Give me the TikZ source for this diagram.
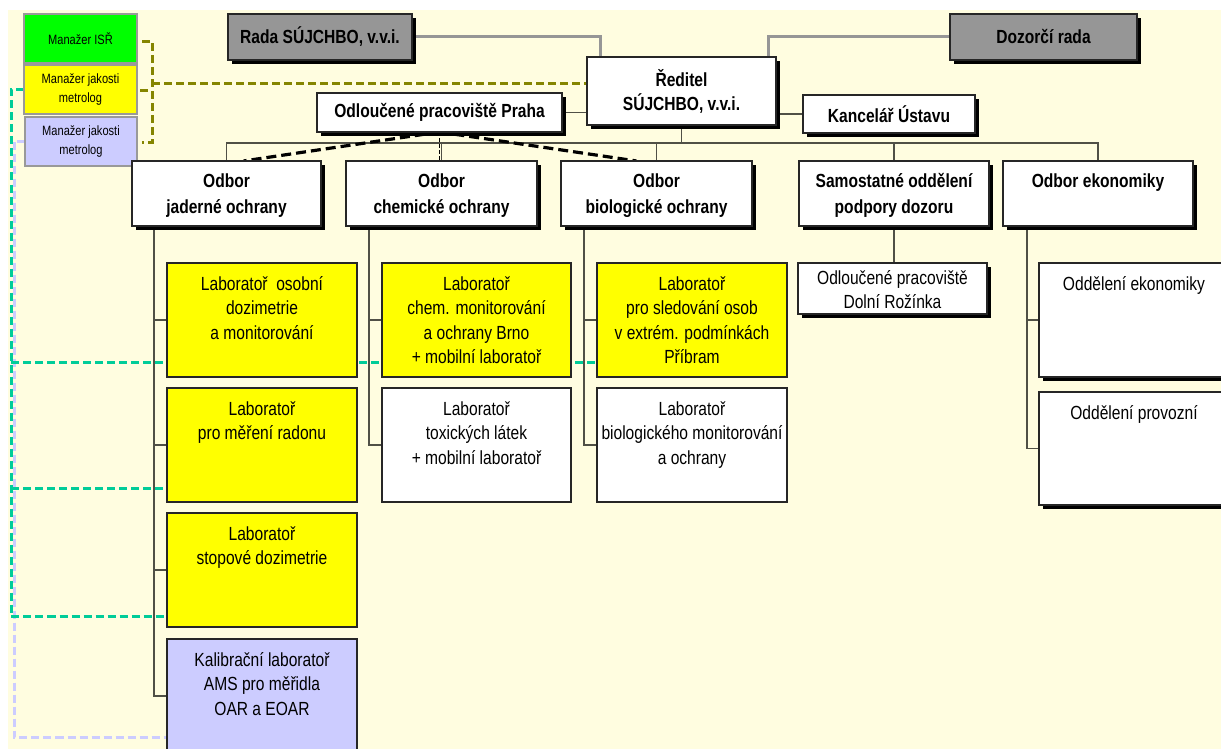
\documentclass[tikz,border=0pt]{standalone}
\usepackage{fontspec}
\setmainfont{Liberation Sans}[FakeStretch=0.82]
\usetikzlibrary{shadows,backgrounds,calc}
\definecolor{cream}{RGB}{255,253,224}
\definecolor{olv}{RGB}{133,133,0}
\definecolor{tealc}{RGB}{0,204,153}
\definecolor{lav}{RGB}{204,204,255}
\definecolor{gfill}{RGB}{150,150,150}
\definecolor{ylw}{RGB}{255,255,0}
\definecolor{grn}{RGB}{0,255,0}
\definecolor{connc}{RGB}{80,80,70}
\definecolor{gline}{RGB}{150,150,150}
\begin{document}
\begin{tikzpicture}[x=1pt,y=-1pt,
  every node/.style={inner sep=0pt, outer sep=0pt},
  bx/.style={draw=black!85, line width=1.3pt, rectangle, anchor=north west},
  shd/.style={drop shadow={shadow xshift=4pt,shadow yshift=-4pt,fill=black,opacity=1}},
  mgr/.style={bx, draw=black!40, line width=1.8pt, minimum width=113pt, minimum height=49pt, font=\fontsize{13.5}{18.5}\selectfont, align=center},
  topbox/.style={bx, shd, fill=white, font=\bfseries\fontsize{19}{24}\selectfont, align=center},
  odb/.style={bx, shd, fill=white, minimum height=65pt},
  lab/.style={bx, minimum height=114pt},
  rt/.style={font=\fontsize{19}{24.5}\selectfont, align=center, anchor=north},
  bt/.style={font=\bfseries\fontsize{19}{26}\selectfont, align=center, anchor=north},
  conn/.style={draw=connc, line width=1.2pt},
  graycon/.style={draw=gline, line width=3pt},
  olvdash/.style={draw=olv, line width=3pt, dash pattern=on 8pt off 4pt},
  tldash/.style={draw=tealc, line width=3pt, dash pattern=on 8pt off 4pt},
  lvdash/.style={draw=lav, line width=3pt, dash pattern=on 8pt off 4pt},
  bkdash/.style={draw=black, line width=3.2pt, dash pattern=on 10pt off 5pt}
]
\useasboundingbox (0,0) rectangle (1221,749);

% managers
\node[mgr, fill=grn] (M1) at (24,14) {Manažer ISŘ};
\node[mgr, fill=ylw] (M2) at (24,65) {Manažer jakosti\\metrolog};
\node[mgr, fill=lav, minimum width=112pt] (M3) at (25,117) {Manažer jakosti\\metrolog};

% top level
\node[topbox, fill=gfill, minimum width=184pt, minimum height=46pt] (R) at (228,14) {Rada SÚJCHBO, v.v.i.};
\node[topbox, fill=gfill, minimum width=187pt, minimum height=46pt] (D) at (950,14) {Dozorčí rada};
\node[topbox, minimum width=189pt, minimum height=68pt] (Dir) at (587,57) {Ředitel\\SÚJCHBO, v.v.i.};
\node[topbox, minimum width=245pt, minimum height=39pt] (P) at (317,93) {Odloučené pracoviště Praha};
\node[topbox, minimum width=172pt, minimum height=38pt] (K) at (803,95) {Kancelář Ústavu};

% odbory
\node[odb, minimum width=189pt] (J) at (132,161) {};
\node[odb, minimum width=191pt] (C) at (346,161) {};
\node[odb, minimum width=191pt] (B) at (561,161) {};
\node[odb, minimum width=190pt] (S) at (799,161) {};
\node[odb, minimum width=190pt] (E) at (1003,161) {};
\node[bt] (Jt) at ([yshift=-12.5pt]J.north) {Odbor\\jaderné ochrany};
\node[bt] (Ct) at ([yshift=-12.5pt]C.north) {Odbor\\chemické ochrany};
\node[bt] (Bt) at ([yshift=-12.5pt]B.north) {Odbor\\biologické ochrany};
\node[bt] (St) at ([yshift=-12.5pt]S.north) {Samostatné oddělení\\podpory dozoru};
\node[bt] (Et) at ([yshift=-12.5pt]E.north) {Odbor ekonomiky};

% labs
\node[lab, fill=ylw, minimum width=190pt] (L1) at (167,263) {};
\node[lab, fill=ylw, minimum width=190pt] (L2) at (167,388) {};
\node[lab, fill=ylw, minimum width=190pt] (L3) at (167,513) {};
\node[lab, fill=lav, minimum width=190pt] (L4) at (167,639) {};
\node[lab, fill=ylw, minimum width=189pt] (C1) at (382,263) {};
\node[lab, fill=white, minimum width=189pt] (C2) at (382,388) {};
\node[lab, fill=ylw, minimum width=190pt] (B1) at (597,263) {};
\node[lab, fill=white, minimum width=190pt] (B2) at (597,388) {};
\node[bx, shd, fill=white, minimum width=189pt, minimum height=51pt] (DR) at (798,263) {};
\node[bx, shd, fill=white, minimum width=190pt, minimum height=114pt] (OE) at (1039,263) {};
\node[bx, shd, fill=white, minimum width=190pt, minimum height=113pt] (OP) at (1039,392) {};

\node[rt] (L1t) at ([yshift=-13.5pt]L1.north) {Laboratoř~ osobní\\dozimetrie\\a monitorování};
\node[rt] (L2t) at ([yshift=-13.5pt]L2.north) {Laboratoř\\pro měření radonu};
\node[rt] (L3t) at ([yshift=-13.5pt]L3.north) {Laboratoř\\stopové dozimetrie};
\node[rt] (L4t) at ([yshift=-13.5pt]L4.north) {Kalibrační laboratoř\\AMS pro měřidla\\OAR a EOAR};
\node[rt] (C1t) at ([yshift=-13.5pt]C1.north) {Laboratoř\\chem. monitorování\\a ochrany Brno\\+ mobilní laboratoř};
\node[rt] (C2t) at ([yshift=-13.5pt]C2.north) {Laboratoř\\toxických látek\\+ mobilní laboratoř};
\node[rt] (B1t) at ([yshift=-13.5pt]B1.north) {Laboratoř\\pro sledování osob\\v extrém. podmínkách\\Příbram};
\node[rt] (B2t) at ([yshift=-13.5pt]B2.north) {Laboratoř\\biologického monitorování\\a ochrany};
\node[rt] (DRt) at ([yshift=-7.5pt]DR.north) {Odloučené pracoviště\\Dolní Rožínka};
\node[rt] (OEt) at ([yshift=-13.5pt]OE.north) {Oddělení ekonomiky};
\node[rt] (OPt) at ([yshift=-13.5pt]OP.north) {Oddělení provozní};

\coordinate (bus) at (0,143);
\coordinate (jx) at (154,0);
\coordinate (cx) at (369,0);
\coordinate (bxx) at (584,0);
\coordinate (ex) at (1027,0);
\coordinate (ob) at (152,0);
\coordinate (oy) at (0,84);
\coordinate (tx) at (11,0);
\coordinate (lx) at (14,0);
\coordinate (t1) at (0,362);
\coordinate (t2) at (0,488);
\coordinate (t3) at (0,616);
\coordinate (l1) at (0,737);

\begin{scope}[on background layer]
\fill[white] (0,0) rectangle (1221,749);
\fill[cream] (8,10) rectangle (1221,749);

% dashed manager links
\draw[lvdash] (M3.west) -- (M3.west -| lx) -- (l1 -| lx) -- (l1 -| L4.west);
\draw[tldash] (M2.west) -- (M2.west -| tx) -- (t3 -| tx) -- (t3 -| L3.west);
\draw[tldash] (t1 -| tx) -- (t1 -| B1.west);
\draw[tldash] (t2 -| tx) -- (t2 -| L2.west);
\draw[olvdash] ($(M1.east)+(5,3)$) -- ($(M1.east)+(15,3)$) -- ($(M3.east)+(15,1.5)$) -- ($(M3.east)+(5,1.5)$);
\draw[olvdash] ($(M2.east)+(3,1.5)$) -- ($(M2.east)+(13,1.5)$);
\draw[olvdash] (ob |- oy) -- (Dir.west |- oy);

% top links
\draw[graycon] (R.east) -| ($(Dir.north west)+(13,0)$);
\draw[graycon] (D.west) -| ($(Dir.north east)+(-8,0)$);
\draw[conn] (P.east) -- (P.east -| Dir.west);
\draw[conn] (K.west) -- (K.west -| Dir.east);

% bus
\draw[conn] (J.north) -- (J.north |- bus) -- (E.north |- bus) -- (E.north);
\draw[conn] (Dir.south) -- (Dir.south |- bus);
\draw[conn] (C.north) -- (C.north |- bus);
\draw[conn] (B.north) -- (B.north |- bus);
\draw[conn] (S.north) -- (S.north |- bus);

% trunks
\draw[conn] (J.south -| jx) -- (L4.west -| jx) -- (L4.west);
\draw[conn] (L1.west) -- (L1.west -| jx);
\draw[conn] (L2.west) -- (L2.west -| jx);
\draw[conn] (L3.west) -- (L3.west -| jx);
\draw[conn] (C.south -| cx) -- (C2.west -| cx) -- (C2.west);
\draw[conn] (C1.west) -- (C1.west -| cx);
\draw[conn] (B.south -| bxx) -- (B2.west -| bxx) -- (B2.west);
\draw[conn] (B1.west) -- (B1.west -| bxx);
\draw[conn] (S.south) -- (S.south |- DR.north);
\draw[conn] (E.south -| ex) -- (OP.west -| ex) -- (OP.west);
\draw[conn] (OE.west) -- (OE.west -| ex);

% Praha dashed
\draw[bkdash] (P.south) -- ($(J.north)+(17,0)$);
\draw[bkdash] (P.south) -- ($(B.north)+(-20,0)$);
\draw[draw=black, line width=1.5pt, dash pattern=on 4pt off 2pt] (P.south) -- (P.south |- C.north);
\end{scope}
\end{tikzpicture}
\end{document}
